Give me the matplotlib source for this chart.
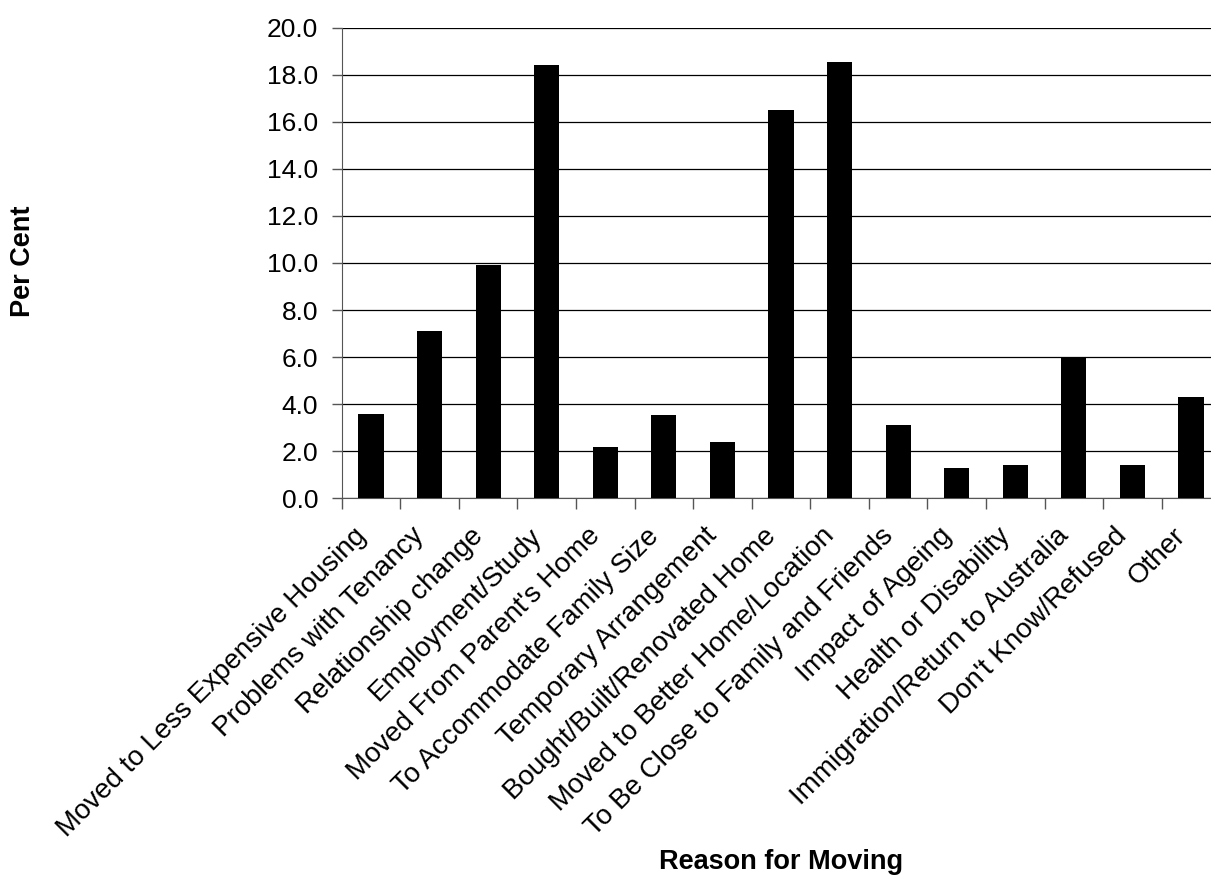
import numpy as np
import matplotlib.pyplot as plt

plt.rcParams['font.family'] = ['Liberation Sans', 'DejaVu Sans']

reasons = ["Moved to Less Expensive Housing", "Problems with Tenancy",
           "Relationship change", "Employment/Study", "Moved From Parent's Home",
           "To Accommodate Family Size", "Temporary Arrangement",
           "Bought/Built/Renovated Home", "Moved to Better Home/Location",
           "To Be Close to Family and Friends", "Impact of Ageing",
           "Health or Disability", "Immigration/Return to Australia",
           "Don't Know/Refused", "Other"]
per_cent = [3.6, 7.1, 9.9, 18.4, 2.2, 3.55, 2.4, 16.5, 18.55, 3.1, 1.3, 1.4, 6.0, 1.4, 4.3]
y_ticks = np.arange(0, 20.1, 2.0)

fig = plt.figure(figsize=(12.11, 8.76), dpi=100)
# plot area runs a little past the right edge of the picture, like the original
ax = fig.add_axes([0.2822, 0.4312, 0.7255, 0.5372])

x = np.arange(len(reasons))
ax.bar(x, per_cent, width=0.43, color='black', zorder=3)

ax.set_xlim(-0.5, len(reasons) - 0.5)
ax.set_ylim(0, 20)
ax.set_yticks(y_ticks)
ax.set_yticklabels([f"{v:.1f}" for v in y_ticks], fontsize=19)
ax.yaxis.grid(True, color='black', linewidth=0.9, zorder=0)

# category labels at centres, tick marks at boundaries
ax.set_xticks(x)
ax.set_xticklabels(reasons, rotation=45, ha='right', va='bottom',
                   rotation_mode='anchor', fontsize=20)
ax.tick_params(axis='x', length=0, pad=31)
ax.set_xticks(np.arange(-0.5, len(reasons)), minor=True)
ax.tick_params(axis='x', which='minor', length=8, width=1, color='#555555')
ax.tick_params(axis='y', length=7, width=1, color='#555555', pad=10)

for s in ['top', 'right']:
    ax.spines[s].set_visible(False)
ax.spines['left'].set_color('#555555')
ax.spines['bottom'].set_color('#555555')

fig.text(0.019, 0.702, 'Per Cent', rotation=90, ha='center', va='center',
         fontsize=19.5, fontweight='bold')
fig.text(0.645, 0.008, 'Reason for Moving', ha='center', va='baseline',
         fontsize=19.5, fontweight='bold')

fig.savefig('out.png', dpi=100)
